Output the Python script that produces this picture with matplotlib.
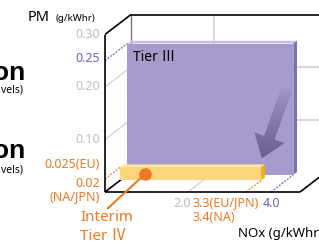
import matplotlib.pyplot as plt
import numpy as np
from matplotlib.patches import Polygon
from matplotlib.colors import to_rgb

plt.rcParams['font.family'] = ['Noto Sans', 'Noto Sans CJK JP', 'DejaVu Sans']

# values
pm_grid = [0.10, 0.20]
pm_ticks = [0.10, 0.20, 0.30]
nox_grid = [2.0]
pm_max = 0.30
nox_max = 4.7

tier3_nox = 4.0
tier3_pm = 0.25
interim_nox = 3.4          # 3.3 EU/JPN, 3.4 NA
interim_pm = 0.025         # 0.025 EU, 0.02 NA/JPN

# oblique projection: depth d in 0..1 shifts up-right
SX, SY = 41.5, 525.0       # pixels per unit NOx / PM
DX, DY = 26.0 / SX, 20.0 / SY

def proj(nox, pm, d=0.0):
    return (nox + DX * d, pm + DY * d)

fig = plt.figure(figsize=(3.19, 2.42), dpi=100)
ax = fig.add_axes([0, 0, 1, 1])
ax.set_xlim(-105 / SX, (319 - 105) / SX)
ax.set_ylim((192 - 242) / SY, 192 / SY)
ax.axis('off')

def line(p0, p1, **kw):
    ax.plot([p0[0], p1[0]], [p0[1], p1[1]], solid_capstyle='butt', **kw)

grey = '#d9d9d9'
orange = '#f07822'
purple = '#6c63b5'
tickgrey = '#bdbdbd'
fs = 9

# back wall / left wall grid
for pm in pm_grid:
    line(proj(0, pm, 0), proj(0, pm, 1), color=grey, lw=1.2, zorder=1)
    line(proj(0, pm, 1), proj(nox_max + 1, pm, 1), color=grey, lw=1.5, zorder=1)
for nx in nox_grid:
    line(proj(nx, 0, 1), proj(nx, pm_max, 1), color=grey, lw=1.5, zorder=1)
    line(proj(nx, 0, 0), proj(nx, 0, 1), color=grey, lw=1.2, zorder=1)
line(proj(0, 0, 1), proj(0, pm_max, 1), color='#777777', lw=1.0, zorder=1)

# frame
k = dict(color='black', lw=1.2, zorder=6)
line(proj(0, 0, 0), proj(0, pm_max, 0), **k)
line(proj(0, pm_max, 0), proj(0, pm_max, 1), **k)
line(proj(0, pm_max, 1), proj(nox_max + 1, pm_max, 1), **k)
line(proj(0, 0, 0), proj(nox_max, 0, 0), **k)
line(proj(nox_max, 0, 0), proj(nox_max, 0, 1.2), **k)
line(proj(0, 0, 0), proj(0, 0, 1), color='black', lw=1.2, zorder=1)

def prism(x1, y1, d0, d1, front, top, side, z):
    f = [proj(0, 0, d0), proj(x1, 0, d0), proj(x1, y1, d0), proj(0, y1, d0)]
    t = [proj(0, y1, d0), proj(x1, y1, d0), proj(x1, y1, d1), proj(0, y1, d1)]
    s = [proj(x1, 0, d0), proj(x1, 0, d1), proj(x1, y1, d1), proj(x1, y1, d0)]
    ax.add_patch(Polygon(t, closed=True, fc=top, ec='none', zorder=z))
    ax.add_patch(Polygon(s, closed=True, fc=side, ec='none', zorder=z))
    ax.add_patch(Polygon(f, closed=True, fc=front, ec='none', zorder=z))

# Tier III block
prism(tier3_nox, tier3_pm, 0.86, 1.0, '#a69bcc', '#c9c1e3', '#7b70b8', 3)
# Interim Tier IV slab
prism(interim_nox, interim_pm, 0.58, 0.72, '#fdd57a', '#ffe7a8', '#f5b300', 5)

# dotted guides
dots = (0, (1.5, 1.2))
line(proj(0, tier3_pm, 0), proj(0, tier3_pm, 0.86), color=purple, lw=0.9, ls=dots, zorder=4)
line(proj(tier3_nox, 0, 0), proj(tier3_nox, 0, 0.86), color=purple, lw=0.9, ls=dots, zorder=4)
line(proj(0, interim_pm, 0), proj(0, interim_pm, 0.58), color=orange, lw=0.9, ls=dots, zorder=4)
line(proj(interim_nox, 0, 0), proj(interim_nox, 0, 0.58), color=orange, lw=0.9, ls=dots, zorder=4)

# gradient arrow (pixel-like units then back to data)
tail = np.array([4.39 * SX, 0.198 * SY])
tip = np.array([3.78 * SX, 0.064 * SY])
u = (tip - tail) / np.linalg.norm(tip - tail)
n = np.array([-u[1], u[0]])
hl, hw, sw = 22, 16, 5.5
base = tip - u * hl
pts = [tail + n * sw, base + n * sw, base + n * hw, tip,
       base - n * hw, base - n * sw, tail - n * sw]
pts = [(p[0] / SX, p[1] / SY) for p in pts]
arrow = Polygon(pts, closed=True, fc='none', ec='none', zorder=4)
ax.add_patch(arrow)
xs = [p[0] for p in pts]
ys = [p[1] for p in pts]
g = np.linspace(0, 1, 100)[:, None]
rgba = np.zeros((100, 1, 4))
rgba[..., :3] = to_rgb('#5e5585')
rgba[..., 3] = 0.85 * (1 - g) ** 0.8
im = ax.imshow(rgba, extent=[min(xs), max(xs), min(ys), max(ys)], origin='lower',
               aspect='auto', zorder=4, interpolation='bilinear')
im.set_clip_path(arrow)

# interim marker
dot = proj(0.6, 0.012, 0.58)
ax.plot([dot[0], 0.07], [dot[1], -0.031], color=orange, lw=1.5, zorder=7)
ax.plot(dot[0], dot[1], 'o', ms=8, color=orange, zorder=8)

# y tick labels
for pm in pm_ticks:
    ax.text(-0.12, pm, f'{pm:.2f}', ha='right', va='center', color=tickgrey, fontsize=fs)
ax.text(-0.12, tier3_pm + 0.004, '0.25', ha='right', va='center', color=purple, fontsize=fs)
ax.text(-0.12, 0.053, '0.025(EU)', ha='right', va='center', color=orange, fontsize=fs)
ax.text(-0.12, 0.017, '0.02', ha='right', va='center', color=orange, fontsize=fs)
ax.text(-0.12, -0.008, '(NA/JPN)', ha='right', va='center', color=orange, fontsize=fs)

# x tick labels
ax.text(2.08, -0.021, '2.0', ha='right', va='center', color=tickgrey, fontsize=fs)
ax.text(2.12, -0.021, '3.3(EU/JPN)', ha='left', va='center', color=orange, fontsize=fs)
ax.text(3.8, -0.021, '4.0', ha='left', va='center', color=purple, fontsize=fs)
ax.text(2.12, -0.049, '3.4(NA)', ha='left', va='center', color=orange, fontsize=fs)
ax.text(3.2, -0.079, 'NOx (g/kWhr)', ha='left', va='center', color='black', fontsize=9.5)

# axis title
ax.text(-1.87, 0.333, 'PM', ha='left', va='center', color='black', fontsize=10.5)
ax.text(-1.2, 0.331, '(g/kWhr)', ha='left', va='center', color='black', fontsize=7)

ax.text(0.67, 0.257, 'Tier Ⅲ', ha='left', va='center', color='black', fontsize=10)
ax.text(-0.6, -0.049, 'Interim', ha='left', va='center', color=orange, fontsize=11)
ax.text(-0.6, -0.085, 'Tier Ⅳ', ha='left', va='center', color=orange, fontsize=11)

# clipped slide text on the left
big = dict(ha='right', va='baseline', fontsize=19, fontweight='bold', family='Liberation Sans')
fig.text(25 / 319, 1 - 80 / 242, 'on', **big)
fig.text(25 / 319, 1 - 158 / 242, 'on', **big)
fig.text(23 / 319, 1 - 90 / 242, 'vels)', ha='right', va='center', fontsize=7.5)
fig.text(23 / 319, 1 - 170 / 242, 'vels)', ha='right', va='center', fontsize=7.5)

fig.savefig('out.png', dpi=100)
